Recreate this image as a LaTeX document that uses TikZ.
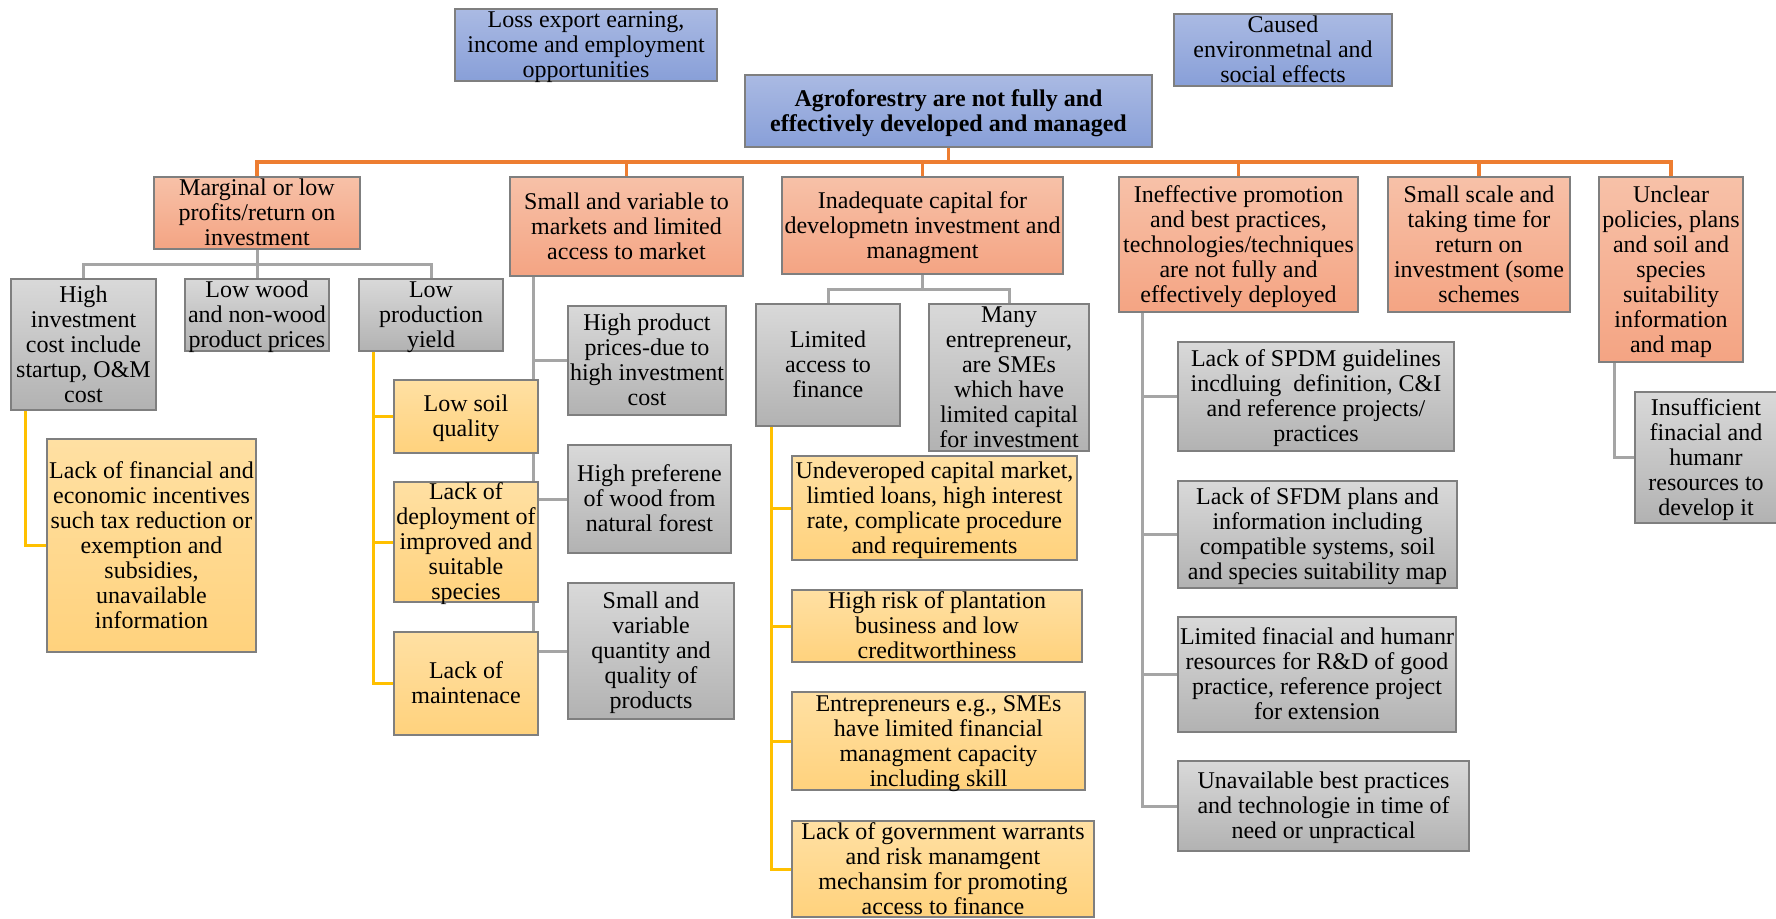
\documentclass[tikz,border=0pt]{standalone}
\usepackage{fontspec}
\setmainfont{Liberation Serif}
\usetikzlibrary{backgrounds}

\definecolor{blueT}{HTML}{AABAE3}
\definecolor{blueB}{HTML}{889FD8}
\definecolor{orT}{HTML}{F7C1A8}
\definecolor{orB}{HTML}{F4A483}
\definecolor{grT}{HTML}{D9D9D9}
\definecolor{grB}{HTML}{B2B2B2}
\definecolor{yeT}{HTML}{FFE0A3}
\definecolor{yeB}{HTML}{FFD27D}
\definecolor{edgeGr}{HTML}{7F7F7F}
\definecolor{lnOr}{HTML}{ED7D31}
\definecolor{lnGr}{HTML}{A5A5A5}
\definecolor{lnYe}{HTML}{FFC000}

% centred block of lines that takes no room of its own, so every box keeps its set size
\newcommand\boxlines[1]{\raisebox{-9bp}[0pt][0pt]{\begin{tabular}{@{}c@{}}#1\end{tabular}}}

\begin{document}
\begin{tikzpicture}[x=1bp,y=-1bp,
  cbox/.style={draw=edgeGr, line width=1.3bp, rectangle, inner sep=0pt, outer sep=0pt,
               font=\fontsize{24bp}{25bp}\selectfont},
  bluebox/.style={cbox, top color=blueT, bottom color=blueB},
  orbox/.style={cbox, top color=orT, bottom color=orB},
  grbox/.style={cbox, top color=grT, bottom color=grB},
  yebox/.style={cbox, top color=yeT, bottom color=yeB},
  wh/.style 2 args={minimum width=#1bp, minimum height=#2bp},
  orline/.style={draw=lnOr, line width=3.2bp},
  grline/.style={draw=lnGr, line width=3bp},
  yeline/.style={draw=lnYe, line width=3bp}
]
\useasboundingbox (0,0) rectangle (1776,918);

% ---------- effects and core problem ----------
\node[bluebox, wh={262}{72}] (loss) at (586,45)
  {\boxlines{Loss export earning,\\income and employment\\opportunities}};
\node[bluebox, wh={218}{72}] (caused) at (1283,50)
  {\boxlines{Caused\\environmetnal and\\social effects}};
\node[bluebox, wh={407}{72}, font=\fontsize{24bp}{25bp}\selectfont\bfseries] (main) at (948.5,111)
  {\boxlines{Agroforestry are not fully and\\effectively developed and managed}};

% ---------- main causes ----------
\node[orbox, wh={206}{72}] (marg) at (257,213)
  {\boxlines{Marginal or low\\profits/return on\\investment}};
\node[orbox, wh={233}{99}] (smv) at (626.5,226.5)
  {\boxlines{Small and variable to\\markets and limited\\access to market}};
\node[orbox, wh={281}{97}] (inad) at (922.5,225.5)
  {\boxlines{Inadequate capital for\\developmetn investment and\\managment}};
\node[orbox, wh={239}{135}] (ineff) at (1238.5,244.5)
  {\boxlines{Ineffective promotion\\and best practices,\\technologies/techniques\\are not fully and\\effectively deployed}};
\node[orbox, wh={182}{135}] (ssc) at (1479,244.5)
  {\boxlines{Small scale and\\taking time for\\return on\\investment (some\\schemes}};
\node[orbox, wh={144}{185}] (uncl) at (1671,269.5)
  {\boxlines{Unclear\\policies, plans\\and soil and\\species\\suitability\\information\\and map}};

% ---------- low profits branch ----------
\node[grbox, wh={145}{131}] (high) at (83.5,344.5)
  {\boxlines{High\\investment\\cost include\\startup, O\&M\\cost}};
\node[grbox, wh={144}{72}] (lwood) at (257,315)
  {\boxlines{Low wood\\and non-wood\\product prices}};
\node[grbox, wh={144}{72}] (lprod) at (431,315)
  {\boxlines{Low\\production\\yield}};
\node[yebox, wh={209}{213}] (lfin) at (151.5,545.5)
  {\boxlines{Lack of financial and\\economic incentives\\such tax reduction or\\exemption and\\subsidies,\\unavailable\\information}};
\node[yebox, wh={144}{73}] (lsoil) at (466,416.5)
  {\boxlines{Low soil\\quality}};
\node[yebox, wh={144}{120}] (ldep) at (466,542)
  {\boxlines{Lack of\\deployment of\\improved and\\suitable\\species}};
\node[yebox, wh={144}{103}] (lmaint) at (466,683.5)
  {\boxlines{Lack of\\maintenace}};

% ---------- market branch ----------
\node[grbox, wh={158}{109}] (hpp) at (647,360.5)
  {\boxlines{High product\\prices-due to\\high investment\\cost}};
\node[grbox, wh={163}{108}] (hpref) at (649.5,499)
  {\boxlines{High preferene\\of wood from\\natural forest}};
\node[grbox, wh={166}{136}] (svq) at (651,651)
  {\boxlines{Small and\\variable\\quantity and\\quality of\\products}};

% ---------- capital branch ----------
\node[grbox, wh={144}{122}] (lacc) at (828,365)
  {\boxlines{Limited\\access to\\finance}};
\node[grbox, wh={160}{147}] (many) at (1009,377.5)
  {\boxlines{Many\\entrepreneur,\\are SMEs\\which have\\limited capital\\for investment}};
\node[yebox, wh={285}{104}] (undev) at (934.5,508)
  {\boxlines{Undeveroped capital market,\\limtied loans, high interest\\rate, complicate procedure\\and requirements}};
\node[yebox, wh={290}{72}] (hrisk) at (937,626)
  {\boxlines{High risk of plantation\\business and low\\creditworthiness}};
\node[yebox, wh={293}{98}] (entre) at (938.5,741)
  {\boxlines{Entrepreneurs e.g., SMEs\\have limited financial\\managment capacity\\including skill}};
\node[yebox, wh={302}{96}] (lgov) at (943,869)
  {\boxlines{Lack of government warrants\\and risk manamgent\\mechansim for promoting\\access to finance}};

% ---------- promotion branch ----------
\node[grbox, wh={276}{109}] (spdm) at (1316,396.5)
  {\boxlines{Lack of SPDM guidelines\\incdluing\ \ definition, C\&I\\and reference projects/\\practices}};
\node[grbox, wh={279}{107}] (sfdm) at (1317.5,534.5)
  {\boxlines{Lack of SFDM plans and\\information including\\compatible systems, soil\\and species suitability map}};
\node[grbox, wh={278}{115}] (lfh) at (1317,674.5)
  {\boxlines{Limited finacial and humanr\\resources for R\&D of good\\practice, reference project\\for extension}};
\node[grbox, wh={291}{90}] (unav) at (1323.5,806)
  {\boxlines{Unavailable best practices\\and technologie in time of\\need or unpractical}};

% ---------- policy branch ----------
\node[grbox, wh={142}{131}] (insuf) at (1706,457.5)
  {\boxlines{Insufficient\\finacial and\\humanr\\resources to\\develop it}};

% ---------- connectors, drawn behind the boxes ----------
\begin{pgfonlayer}{background}
  \coordinate (obus) at (0,162);
  \draw[orline] (marg.north) -- (marg.north |- obus) -- (uncl.north |- obus) -- (uncl.north);
  \draw[orline] (main.south) -- (main.south |- obus);
  \foreach \n in {smv,inad,ineff,ssc}
    \draw[orline] (\n.north) -- (\n.north |- obus);

  \coordinate (gbusA) at (0,264);
  \draw[grline] (marg.south) -- (marg.south |- gbusA);
  \draw[grline] (high.north) -- (high.north |- gbusA) -- (lprod.north |- gbusA) -- (lprod.north);
  \draw[grline] (lwood.north) -- (lwood.north |- gbusA);

  \coordinate (gbusB) at (0,289);
  \draw[grline] (inad.south) -- (inad.south |- gbusB);
  \draw[grline] (lacc.north) -- (lacc.north |- gbusB) -- (many.north |- gbusB) -- (many.north);

  \draw[yeline] ([xshift=15bp]high.south west) |- (lfin.west);

  \coordinate (lpx) at ([xshift=14bp]lprod.south west);
  \draw[yeline] (lpx) |- (lmaint.west);
  \foreach \n in {lsoil,ldep}
    \draw[yeline] (lpx |- \n.west) -- (\n.west);

  \coordinate (smx) at ([xshift=23bp]smv.south west);
  \draw[grline] (smx) |- (svq.west);
  \foreach \n in {hpp,hpref}
    \draw[grline] (smx |- \n.west) -- (\n.west);

  \coordinate (lax) at ([xshift=15bp]lacc.south west);
  \draw[yeline] (lax) |- (lgov.west);
  \foreach \n in {undev,hrisk,entre}
    \draw[yeline] (lax |- \n.west) -- (\n.west);

  \coordinate (iex) at ([xshift=23bp]ineff.south west);
  \draw[grline] (iex) |- (unav.west);
  \foreach \n in {spdm,sfdm,lfh}
    \draw[grline] (iex |- \n.west) -- (\n.west);

  \draw[grline] ([xshift=15bp]uncl.south west) |- (insuf.west);
\end{pgfonlayer}
\end{tikzpicture}
\end{document}
